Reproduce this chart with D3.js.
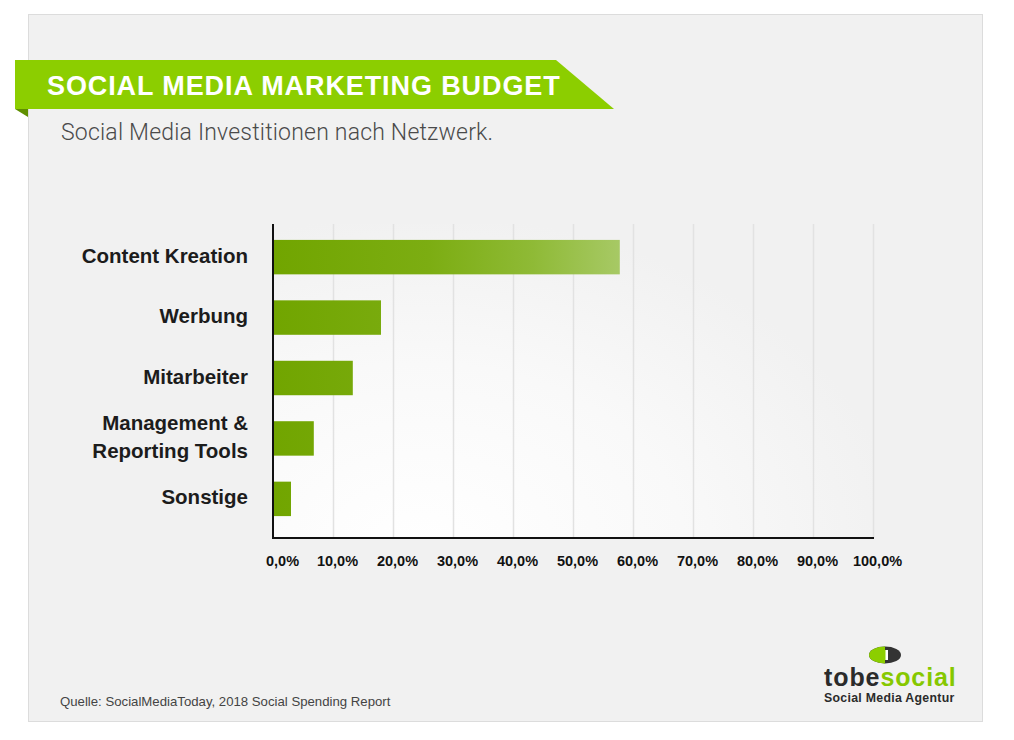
<!DOCTYPE html>
<html>
<head>
<meta charset="utf-8">
<script src="https://cdn.jsdelivr.net/npm/d3@7"></script>
<style>
  html, body { margin: 0; padding: 0; background: #fff; }
  svg { display: block; }
</style>
</head>
<body>
<svg width="1014" height="740"></svg>
<script>
// chart data
var categories = ["Content Kreation", "Werbung", "Mitarbeiter", "Management &\nReporting Tools", "Sonstige"];
var values = [57.8, 18.0, 13.3, 6.8, 3.0];
var tickValues = [0, 10, 20, 30, 40, 50, 60, 70, 80, 90, 100];
var title = "SOCIAL MEDIA MARKETING BUDGET";
var subtitle = "Social Media Investitionen nach Netzwerk.";
var source = "Quelle: SocialMediaToday, 2018 Social Spending Report";

(function(){
  var svg = d3.select("svg");
  var defs = svg.append("defs");

  var left = 273, right = 873, top = 224, bottom = 538;

  var x = d3.scaleLinear().domain([0, 100]).range([left, right]);
  var y = d3.scaleBand().domain(categories).range([226, 530])
    .paddingInner(0.43).paddingOuter(0.23);

  // card
  svg.append("rect")
    .attr("x", 28.5).attr("y", 14.5).attr("width", 954).attr("height", 707)
    .style("fill", "#f1f1f1").style("stroke", "#dcdcdc");

  // banner
  svg.append("path")
    .attr("d", "M15,60 L556,60 L614,109 L15,109 Z")
    .style("fill", "#8cce00");
  svg.append("path")
    .attr("d", "M15,109 L28,109 L28,117 Z")
    .style("fill", "#5f8f00");
  svg.append("text")
    .attr("x", 47).attr("y", 94.5)
    .style("font-family", "'Liberation Sans', Arial, sans-serif")
    .style("font-weight", "bold").style("font-size", "27px")
    .style("letter-spacing", "0.9px")
    .style("fill", "#fff")
    .text(title);
  svg.append("text")
    .attr("x", 61).attr("y", 140)
    .style("font-family", "Roboto, 'Liberation Sans', sans-serif")
    .style("font-weight", 300).style("font-size", "23px")
    .style("letter-spacing", "0.2px")
    .style("fill", "#4a4a4a")
    .text(subtitle);

  // white glow behind plot
  var glow = defs.append("radialGradient").attr("id", "glow")
    .attr("gradientUnits", "userSpaceOnUse")
    .attr("cx", 420).attr("cy", 545).attr("r", 330)
    .attr("gradientTransform", "translate(420,545) scale(1.45,1) translate(-420,-545)");
  glow.append("stop").attr("offset", "0%").attr("stop-color", "#ffffff");
  glow.append("stop").attr("offset", "55%").attr("stop-color", "#f9f9f9");
  glow.append("stop").attr("offset", "100%").attr("stop-color", "#f1f1f1");
  svg.append("rect")
    .attr("x", left).attr("y", top).attr("width", right - left).attr("height", bottom - top)
    .style("fill", "url(#glow)");

  // grid
  svg.append("g")
    .attr("transform", "translate(0," + bottom + ")")
    .call(d3.axisBottom(x).tickValues(tickValues.slice(1)).tickSize(-(bottom - top)).tickFormat(""))
    .call(function(g){
      g.select(".domain").remove();
      g.selectAll(".tick line").style("stroke", "#e2e2e2").style("stroke-width", 1.5);
    });

  // bar gradient across the value range
  var grad = defs.append("linearGradient").attr("id", "barGrad")
    .attr("gradientUnits", "userSpaceOnUse")
    .attr("x1", x(0)).attr("x2", x(d3.max(values))).attr("y1", 0).attr("y2", 0);
  grad.append("stop").attr("offset", "0%").attr("stop-color", "#71a500");
  grad.append("stop").attr("offset", "45%").attr("stop-color", "#7cad12");
  grad.append("stop").attr("offset", "75%").attr("stop-color", "#8fba36");
  grad.append("stop").attr("offset", "100%").attr("stop-color", "#a7c965");

  svg.selectAll("rect.bar").data(values).enter().append("rect")
    .attr("class", "bar")
    .attr("x", x(0))
    .attr("y", function(d, i){ return y(categories[i]); })
    .attr("width", function(d){ return x(d) - x(0); })
    .attr("height", y.bandwidth())
    .style("fill", "url(#barGrad)");

  // x axis
  svg.append("g")
    .attr("transform", "translate(0," + bottom + ")")
    .call(d3.axisBottom(x).tickValues(tickValues).tickSize(0).tickPadding(18)
      .tickFormat(function(d){ return d3.format(".1f")(d).replace(".", ",") + "%"; }))
    .call(function(g){
      g.select(".domain").attr("d", "M" + left + ",0H" + (right + 1))
        .style("stroke", "#111").style("stroke-width", 2);
      g.selectAll(".tick text")
        .attr("dx", function(d){ return d === 0 ? 9 : 4; })
        .style("font-family", "'Liberation Sans', Arial, sans-serif")
        .style("font-size", "14.5px").style("font-weight", "bold")
        .style("fill", "#111");
    });

  // y axis
  svg.append("g")
    .attr("transform", "translate(" + left + ",0)")
    .call(d3.axisLeft(y).tickSize(0).tickFormat(""))
    .call(function(g){
      g.select(".domain").attr("d", "M0," + top + "V" + (bottom + 1))
        .style("stroke", "#111").style("stroke-width", 2);
    });

  // category labels
  var labels = svg.selectAll("text.cat").data(categories).enter().append("text")
    .attr("class", "cat")
    .attr("text-anchor", "end")
    .style("font-family", "'Liberation Sans', Arial, sans-serif")
    .style("font-size", "20.5px").style("font-weight", "bold")
    .style("fill", "#1c1c1c");
  labels.each(function(d){
    var lines = d.split("\n");
    var cy = y(d) + y.bandwidth() / 2;
    var t = d3.select(this);
    lines.forEach(function(line, j){
      t.append("tspan")
        .attr("x", 248)
        .attr("y", cy + 5.5 + (j - (lines.length - 1) / 2) * 28)
        .text(line);
    });
  });

  // source
  svg.append("text")
    .attr("x", 60).attr("y", 706)
    .style("font-family", "'Liberation Sans', Arial, sans-serif")
    .style("font-size", "13.2px")
    .style("fill", "#444")
    .text(source);

  // logo
  var logo = svg.append("g");
  logo.append("ellipse").attr("cx", 885).attr("cy", 655).attr("rx", 16).attr("ry", 8.5)
    .style("fill", "#333");
  logo.append("path")
    .attr("d", "M885,646.5 A16,8.5 0 0,0 885,663.5 Z")
    .style("fill", "#8cce00");
  logo.append("rect").attr("x", 883).attr("y", 650).attr("width", 5).attr("height", 10)
    .style("fill", "#fff");
  logo.append("rect").attr("x", 883).attr("y", 650).attr("width", 2.5).attr("height", 10)
    .style("fill", "#8cce00");
  var brand = logo.append("text")
    .attr("x", 824).attr("y", 686)
    .style("font-family", "'Liberation Sans', Arial, sans-serif")
    .style("font-size", "25px").style("font-weight", "bold")
    .style("letter-spacing", "0.9px");
  brand.append("tspan").style("fill", "#2b2b2b").text("tobe");
  brand.append("tspan").style("fill", "#86c800").text("social");
  logo.append("text")
    .attr("x", 824).attr("y", 702)
    .style("font-family", "'Liberation Sans', Arial, sans-serif")
    .style("font-size", "12.3px").style("font-weight", "bold")
    .style("letter-spacing", "0.3px")
    .style("fill", "#2b2b2b")
    .text("Social Media Agentur");
})();
</script>
</body>
</html>
